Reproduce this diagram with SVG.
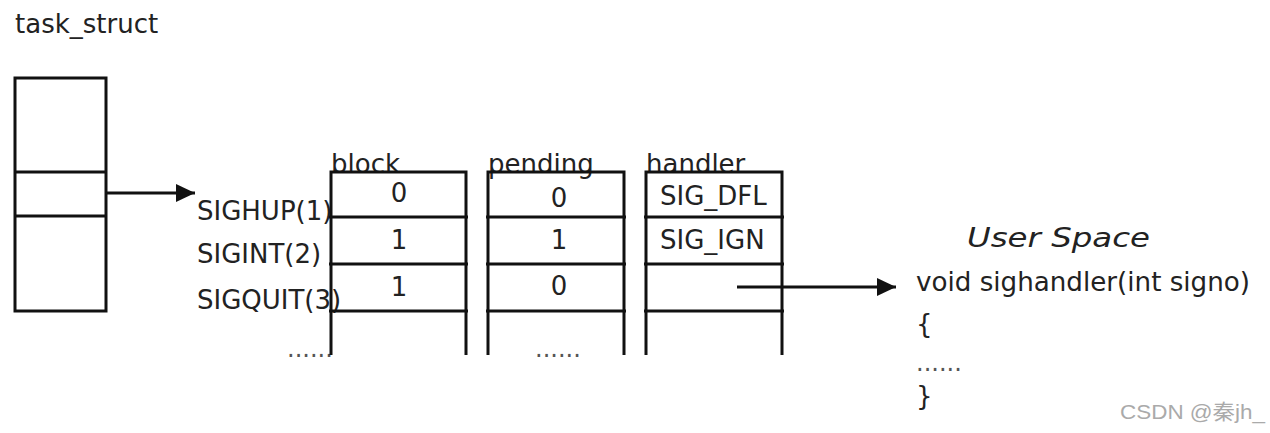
<svg xmlns="http://www.w3.org/2000/svg" width="1270" height="433" viewBox="0 0 1270 433">
<style>
.t{font-family:"DejaVu Sans","Liberation Sans",sans-serif;font-size:26px;fill:#222}
.c{text-anchor:middle}
.ln{stroke:#111;stroke-width:3;fill:none}
.dots{font-family:"DejaVu Sans","Liberation Sans",sans-serif;font-size:24px;fill:#555}
</style>
<defs>
<marker id="ah" markerWidth="20" markerHeight="20" refX="19" refY="10" orient="auto" markerUnits="userSpaceOnUse">
<path d="M0,1 L19,10 L0,19 Z" fill="#111"/>
</marker>
</defs>
<rect width="1270" height="433" fill="#fff"/>

<g id="task_struct">
<text class="t" x="15" y="33">task_struct</text>
<rect class="ln" x="15" y="78" width="91" height="233"/>
<line class="ln" x1="15" y1="172" x2="106" y2="172"/>
<line class="ln" x1="15" y1="216" x2="106" y2="216"/>
</g>

<g id="signals">
<text class="t" x="197" y="220">SIGHUP(1)</text>
<text class="t" x="197" y="263">SIGINT(2)</text>
<text class="t" x="197" y="309">SIGQUIT(3)</text>
<text class="dots" x="287" y="357">......</text>
</g>

<g id="block">
<text class="t" x="331" y="173">block</text>
<path class="ln" d="M331,355 V172 H466 V355 M329,217 H468 M329,264 H468 M329,311 H468"/>
<text class="t c" x="399" y="202">0</text>
<text class="t c" x="399" y="249">1</text>
<text class="t c" x="399" y="296">1</text>
</g>

<g id="pending">
<text class="t" x="488" y="173">pending</text>
<path class="ln" d="M488,355 V172 H624 V355 M486,217 H626 M486,264 H626 M486,311 H626"/>
<text class="t c" x="559" y="207">0</text>
<text class="t c" x="559" y="249">1</text>
<text class="t c" x="559" y="295">0</text>
<text class="dots" x="535" y="357">......</text>
</g>

<g id="handler">
<text class="t" x="646" y="173">handler</text>
<path class="ln" d="M646,355 V172 H782 V355 M644,217 H784 M644,264 H784 M644,311 H784"/>
<text class="t" x="660" y="205">SIG_DFL</text>
<text class="t" x="660" y="249">SIG_IGN</text>
</g>

<g id="user_space">
<text class="t" x="967" y="247" font-style="italic" font-size="28" textLength="183" lengthAdjust="spacingAndGlyphs">User Space</text>
<text class="t" x="916" y="291" textLength="334" lengthAdjust="spacingAndGlyphs">void sighandler(int signo)</text>
<text class="t" x="916" y="333">{</text>
<text class="dots" x="916" y="371">......</text>
<text class="t" x="916" y="405">}</text>
</g>

<g id="connectors">
<line class="ln" x1="106" y1="193" x2="195" y2="193" marker-end="url(#ah)"/>
<line class="ln" x1="737" y1="287" x2="896" y2="287" marker-end="url(#ah)"/>
</g>

<text x="1120" y="419" font-family="'Liberation Sans','Noto Sans CJK SC',sans-serif" font-size="21" fill="#aaa" textLength="145" lengthAdjust="spacingAndGlyphs">CSDN @秦jh_</text>
</svg>
